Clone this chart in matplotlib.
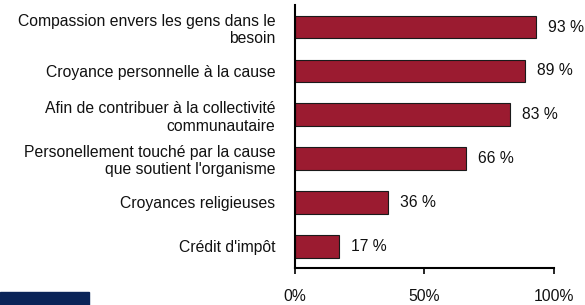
import matplotlib
matplotlib.use("Agg")
import matplotlib.pyplot as plt
from matplotlib.patches import Rectangle

plt.rcParams['font.family'] = ['Liberation Sans', 'DejaVu Sans']

categories = [
    "Compassion envers les gens dans le\nbesoin",
    "Croyance personnelle à la cause",
    "Afin de contribuer à la collectivité\ncommunautaire",
    "Personellement touché par la cause\nque soutient l'organisme",
    "Croyances religieuses",
    "Crédit d'impôt",
]
values = [93, 89, 83, 66, 36, 17]
value_labels = ["93 %", "89 %", "83 %", "66 %", "36 %", "17 %"]
xticks = [0, 50, 100]
xticklabels = ["0%", "50%", "100%"]

FS = 11.3

fig = plt.figure(figsize=(5.85, 3.05), dpi=100)
ax = fig.add_axes([0.504, 0.121, 0.443, 0.862])

ypos = list(range(len(categories)))
ax.barh(ypos, values, height=0.52, color="#9B1B30", edgecolor="#1a1a1a", linewidth=0.8)
ax.set_ylim(len(categories) - 0.5, -0.5)
ax.set_xlim(0, 100)

for y, v, lab in zip(ypos, values, value_labels):
    ax.text(v + 4.5, y, lab, va="center", ha="left", fontsize=FS, color="#111111")

ax.set_yticks(ypos)
ax.set_yticklabels(categories, fontsize=FS, color="#111111", ha="right")
ax.tick_params(axis="y", length=0, pad=14)
ax.set_xticks(xticks)
ax.set_xticklabels(xticklabels, fontsize=FS, color="#111111")
ax.tick_params(axis="x", length=4, width=1.2, direction="out", pad=11)

for s in ["top", "right"]:
    ax.spines[s].set_visible(False)
ax.spines["left"].set_linewidth(1.5)
ax.spines["bottom"].set_linewidth(1.5)

fig.patches.append(Rectangle((0, 0), 89 / 585, 13 / 305, transform=fig.transFigure,
                             color="#0A2458", zorder=5))

fig.savefig("out.png", dpi=100)
